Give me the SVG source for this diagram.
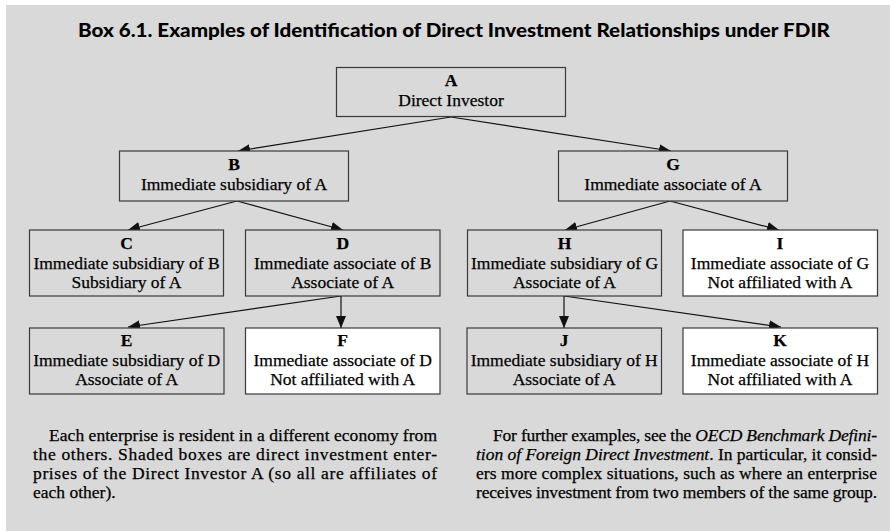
<svg xmlns="http://www.w3.org/2000/svg" width="890" height="531" viewBox="0 0 890 531">
<style>
.bg{fill:#d9d9d9}
.box{stroke:#3a3a3a;stroke-width:1.2}
.sh{fill:#d9d9d9}
.wh{fill:#ffffff}
text{font-family:"Liberation Serif","Times New Roman",serif;font-size:17.5px;fill:#000;stroke:#000;stroke-width:0.25}
.n{text-anchor:middle}
.b{font-weight:bold}
.title{font-family:Lato,"Liberation Sans",sans-serif;font-weight:900;font-size:18px;stroke:none}
.c line{stroke:#111;stroke-width:1.2;marker-end:url(#ah)}
</style>
<defs>
<marker id="ah" markerUnits="userSpaceOnUse" markerWidth="12" markerHeight="10" refX="12" refY="5" orient="auto">
<path d="M0,0 L12,5 L0,10 Z" fill="#111"/>
</marker>
</defs>
<rect class="bg" x="6" y="5" width="884" height="526"/>
<text class="title" x="78" y="37" textLength="752" lengthAdjust="spacingAndGlyphs">Box 6.1. Examples of Identification of Direct Investment Relationships under FDIR</text>

<g class="c" id="connectors">
<line x1="451" y1="117" x2="238" y2="151"/>
<line x1="451" y1="117" x2="671" y2="151"/>
<line x1="237" y1="201" x2="128" y2="230"/>
<line x1="237" y1="201" x2="343" y2="230"/>
<line x1="670" y1="201" x2="565" y2="230"/>
<line x1="670" y1="201" x2="779" y2="230"/>
<line x1="341" y1="296" x2="128" y2="327"/>
<line x1="341" y1="296" x2="341" y2="328"/>
<line x1="564" y1="296" x2="564" y2="328"/>
<line x1="564" y1="296" x2="781" y2="327"/>
</g>

<g id="A">
<rect class="box sh" x="336.5" y="67.5" width="229" height="49"/>
<text class="n b" x="451" y="86">A</text>
<text class="n" x="451" y="106">Direct Investor</text>
</g>
<g id="B">
<rect class="box sh" x="119.5" y="151" width="229" height="50"/>
<text class="n b" x="234" y="170">B</text>
<text class="n" x="234" y="190">Immediate subsidiary of A</text>
</g>
<g id="G">
<rect class="box sh" x="558.5" y="151" width="229" height="50"/>
<text class="n b" x="673" y="170">G</text>
<text class="n" x="673" y="190">Immediate associate of A</text>
</g>
<g id="C">
<rect class="box sh" x="29.5" y="230" width="194" height="66"/>
<text class="n b" x="126.5" y="249">C</text>
<text class="n" x="126.5" y="269">Immediate subsidiary of B</text>
<text class="n" x="126.5" y="288">Subsidiary of A</text>
</g>
<g id="D">
<rect class="box sh" x="245.5" y="230" width="194.5" height="66"/>
<text class="n b" x="342.7" y="249">D</text>
<text class="n" x="342.7" y="269">Immediate associate of B</text>
<text class="n" x="342.7" y="288">Associate of A</text>
</g>
<g id="H">
<rect class="box sh" x="467.5" y="230" width="194" height="66"/>
<text class="n b" x="564.5" y="249">H</text>
<text class="n" x="564.5" y="269">Immediate subsidiary of G</text>
<text class="n" x="564.5" y="288">Associate of A</text>
</g>
<g id="I">
<rect class="box wh" x="683" y="230" width="194.5" height="66"/>
<text class="n b" x="780" y="249">I</text>
<text class="n" x="780" y="269">Immediate associate of G</text>
<text class="n" x="780" y="288">Not affiliated with A</text>
</g>
<g id="E">
<rect class="box sh" x="29.5" y="328" width="194.5" height="66"/>
<text class="n b" x="126.7" y="346">E</text>
<text class="n" x="126.7" y="366">Immediate subsidiary of D</text>
<text class="n" x="126.7" y="385">Associate of A</text>
</g>
<g id="F">
<rect class="box wh" x="245.5" y="328" width="194.5" height="66"/>
<text class="n b" x="342.7" y="346">F</text>
<text class="n" x="342.7" y="366">Immediate associate of D</text>
<text class="n" x="342.7" y="385">Not affiliated with A</text>
</g>
<g id="J">
<rect class="box sh" x="467" y="328" width="194.5" height="66"/>
<text class="n b" x="564.2" y="346">J</text>
<text class="n" x="564.2" y="366">Immediate subsidiary of H</text>
<text class="n" x="564.2" y="385">Associate of A</text>
</g>
<g id="K">
<rect class="box wh" x="683" y="328" width="194.5" height="66"/>
<text class="n b" x="780" y="346">K</text>
<text class="n" x="780" y="366">Immediate associate of H</text>
<text class="n" x="780" y="385">Not affiliated with A</text>
</g>

<g id="note-left">
<text x="49" y="441" textLength="388" lengthAdjust="spacing">Each enterprise is resident in a different economy from</text>
<text x="33" y="460" textLength="404" lengthAdjust="spacing">the others. Shaded boxes are direct investment enter-</text>
<text x="33" y="479" textLength="404" lengthAdjust="spacing">prises of the Direct Investor A (so all are affiliates of</text>
<text x="33" y="498">each other).</text>
</g>
<g id="note-right">
<text x="493" y="441" textLength="384" lengthAdjust="spacing">For further examples, see the <tspan font-style="italic">OECD Benchmark Defini-</tspan></text>
<text x="476" y="460" textLength="401" lengthAdjust="spacing"><tspan font-style="italic">tion of Foreign Direct Investment</tspan>. In particular, it consid-</text>
<text x="476" y="479" textLength="401" lengthAdjust="spacing">ers more complex situations, such as where an enterprise</text>
<text x="476" y="498" textLength="401" lengthAdjust="spacing">receives investment from two members of the same group.</text>
</g>
</svg>
